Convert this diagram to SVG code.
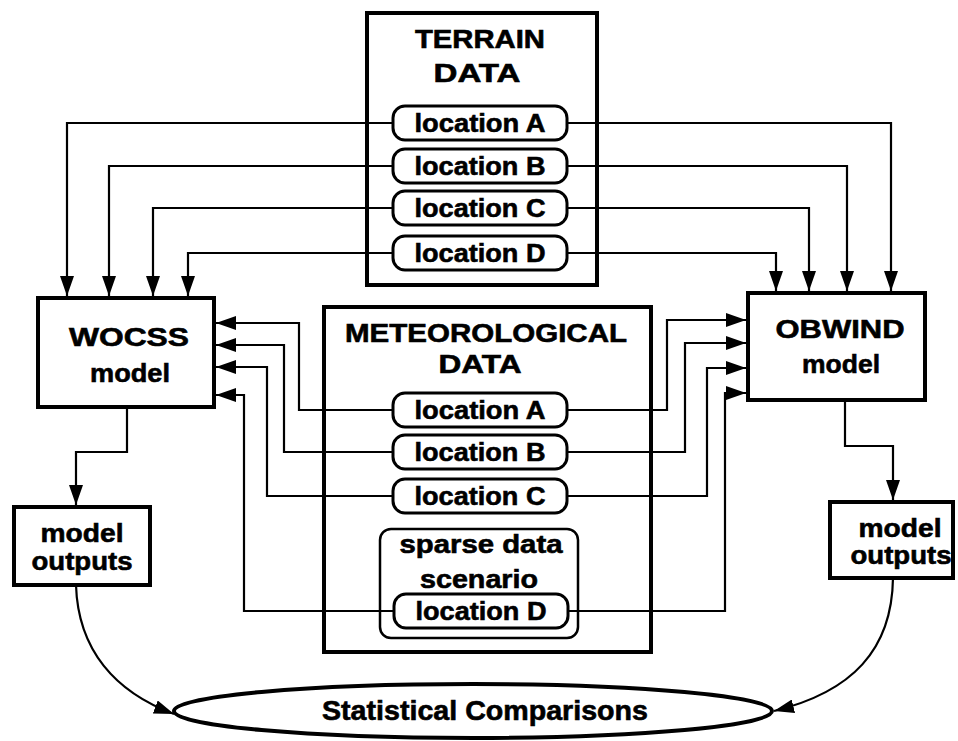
<svg xmlns="http://www.w3.org/2000/svg" width="958" height="741" viewBox="0 0 958 741">
<defs>
<marker id="ah" viewBox="0 0 20 14" refX="20" refY="7" markerWidth="20" markerHeight="14" markerUnits="userSpaceOnUse" orient="auto">
<path d="M0,0 L20,7 L0,14 z" fill="#000"/>
</marker>
</defs>
<style>
.box{fill:#fff;stroke:#000;stroke-width:4}
.pill{fill:#fff;stroke:#000;stroke-width:3}
.sub{fill:none;stroke:#000;stroke-width:2.5}
.t{font-family:"Liberation Sans",Arial,sans-serif;font-weight:bold;font-size:26px;text-anchor:middle;fill:#000;stroke:#000;stroke-width:0.6}
.c{fill:none;stroke:#000;stroke-width:2.2;marker-end:url(#ah)}
</style>
<rect width="958" height="741" fill="#fff"/>

<g id="terrain">
<rect class="box" x="367" y="13" width="230" height="272"/>
<text class="t" x="480" y="48" textLength="130" lengthAdjust="spacingAndGlyphs">TERRAIN</text>
<text class="t" x="477" y="82" textLength="87" lengthAdjust="spacingAndGlyphs">DATA</text>
</g>

<g id="meteorological">
<rect class="box" x="324" y="307" width="327" height="345"/>
<text class="t" x="486" y="342" textLength="282" lengthAdjust="spacingAndGlyphs">METEOROLOGICAL</text>
<text class="t" x="480" y="373" textLength="83" lengthAdjust="spacingAndGlyphs">DATA</text>
</g>

<g id="sparse">
<rect class="sub" x="380" y="529" width="198" height="109" rx="11"/>
<text class="t" x="481" y="553" textLength="163" lengthAdjust="spacingAndGlyphs">sparse data</text>
<text class="t" x="479" y="588" textLength="118" lengthAdjust="spacingAndGlyphs">scenario</text>
</g>

<g id="connectors">
<path class="c" d="M393 123 H67 V296"/>
<path class="c" d="M393 166 H109 V296"/>
<path class="c" d="M393 208 H153 V296"/>
<path class="c" d="M393 253 H188 V296"/>
<path class="c" d="M567 123 H891 V291"/>
<path class="c" d="M567 166 H847 V291"/>
<path class="c" d="M567 208 H809 V291"/>
<path class="c" d="M567 253 H776 V291"/>
<path class="c" d="M393 410 H299 V323 H216"/>
<path class="c" d="M393 452 H284 V345 H216"/>
<path class="c" d="M393 496 H267 V367 H216"/>
<path class="c" d="M394 611 H244 V395 H216"/>
<path class="c" d="M567 410 H667 V320 H746"/>
<path class="c" d="M567 452 H685 V343 H746"/>
<path class="c" d="M567 496 H707 V368 H746"/>
<path class="c" d="M568 611 H725 V393 H746"/>
<path class="c" d="M127 407 V452 H76 V505"/>
<path class="c" d="M845 400 V446 H893 V500"/>
<path class="c" d="M76 585 C78 650 115 692 174 714"/>
<path class="c" d="M893 578 C892 650 852 692 774 711"/>
</g>

<g id="terrain-A"><rect class="pill" x="393" y="106" width="174" height="34" rx="12"/><text class="t" x="480" y="132" textLength="131" lengthAdjust="spacingAndGlyphs">location A</text></g>
<g id="terrain-B"><rect class="pill" x="393" y="149" width="174" height="34" rx="12"/><text class="t" x="480" y="175" textLength="131" lengthAdjust="spacingAndGlyphs">location B</text></g>
<g id="terrain-C"><rect class="pill" x="393" y="191" width="174" height="34" rx="12"/><text class="t" x="480" y="217" textLength="131" lengthAdjust="spacingAndGlyphs">location C</text></g>
<g id="terrain-D"><rect class="pill" x="393" y="236" width="174" height="34" rx="12"/><text class="t" x="480" y="262" textLength="131" lengthAdjust="spacingAndGlyphs">location D</text></g>

<g id="met-A"><rect class="pill" x="393" y="393" width="174" height="34" rx="12"/><text class="t" x="480" y="419" textLength="131" lengthAdjust="spacingAndGlyphs">location A</text></g>
<g id="met-B"><rect class="pill" x="393" y="435" width="174" height="34" rx="12"/><text class="t" x="480" y="461" textLength="131" lengthAdjust="spacingAndGlyphs">location B</text></g>
<g id="met-C"><rect class="pill" x="393" y="479" width="174" height="34" rx="12"/><text class="t" x="480" y="505" textLength="131" lengthAdjust="spacingAndGlyphs">location C</text></g>
<g id="met-D"><rect class="pill" x="394" y="594" width="174" height="34" rx="12"/><text class="t" x="481" y="620" textLength="131" lengthAdjust="spacingAndGlyphs">location D</text></g>

<g id="wocss">
<rect class="box" x="38" y="298" width="176" height="109"/>
<text class="t" x="129" y="346" textLength="120" lengthAdjust="spacingAndGlyphs">WOCSS</text>
<text class="t" x="130" y="382" textLength="80" lengthAdjust="spacingAndGlyphs">model</text>
</g>

<g id="obwind">
<rect class="box" x="748" y="293" width="177" height="107"/>
<text class="t" x="840" y="338" textLength="129" lengthAdjust="spacingAndGlyphs">OBWIND</text>
<text class="t" x="841" y="373" textLength="78" lengthAdjust="spacingAndGlyphs">model</text>
</g>

<g id="outputs-left">
<rect class="box" x="14" y="507" width="136" height="78"/>
<text class="t" x="82" y="542" textLength="83" lengthAdjust="spacingAndGlyphs">model</text>
<text class="t" x="82" y="570" textLength="101" lengthAdjust="spacingAndGlyphs">outputs</text>
</g>

<g id="outputs-right">
<rect class="box" x="830" y="502" width="123" height="76"/>
<text class="t" x="900" y="537" textLength="83" lengthAdjust="spacingAndGlyphs">model</text>
<text class="t" x="901" y="564" textLength="101" lengthAdjust="spacingAndGlyphs">outputs</text>
</g>

<g id="statistical">
<ellipse cx="473" cy="711" rx="299" ry="27" fill="none" stroke="#000" stroke-width="4"/>
<text class="t" x="485" y="720" textLength="326" lengthAdjust="spacingAndGlyphs" style="font-size:27px">Statistical Comparisons</text>
</g>
</svg>
